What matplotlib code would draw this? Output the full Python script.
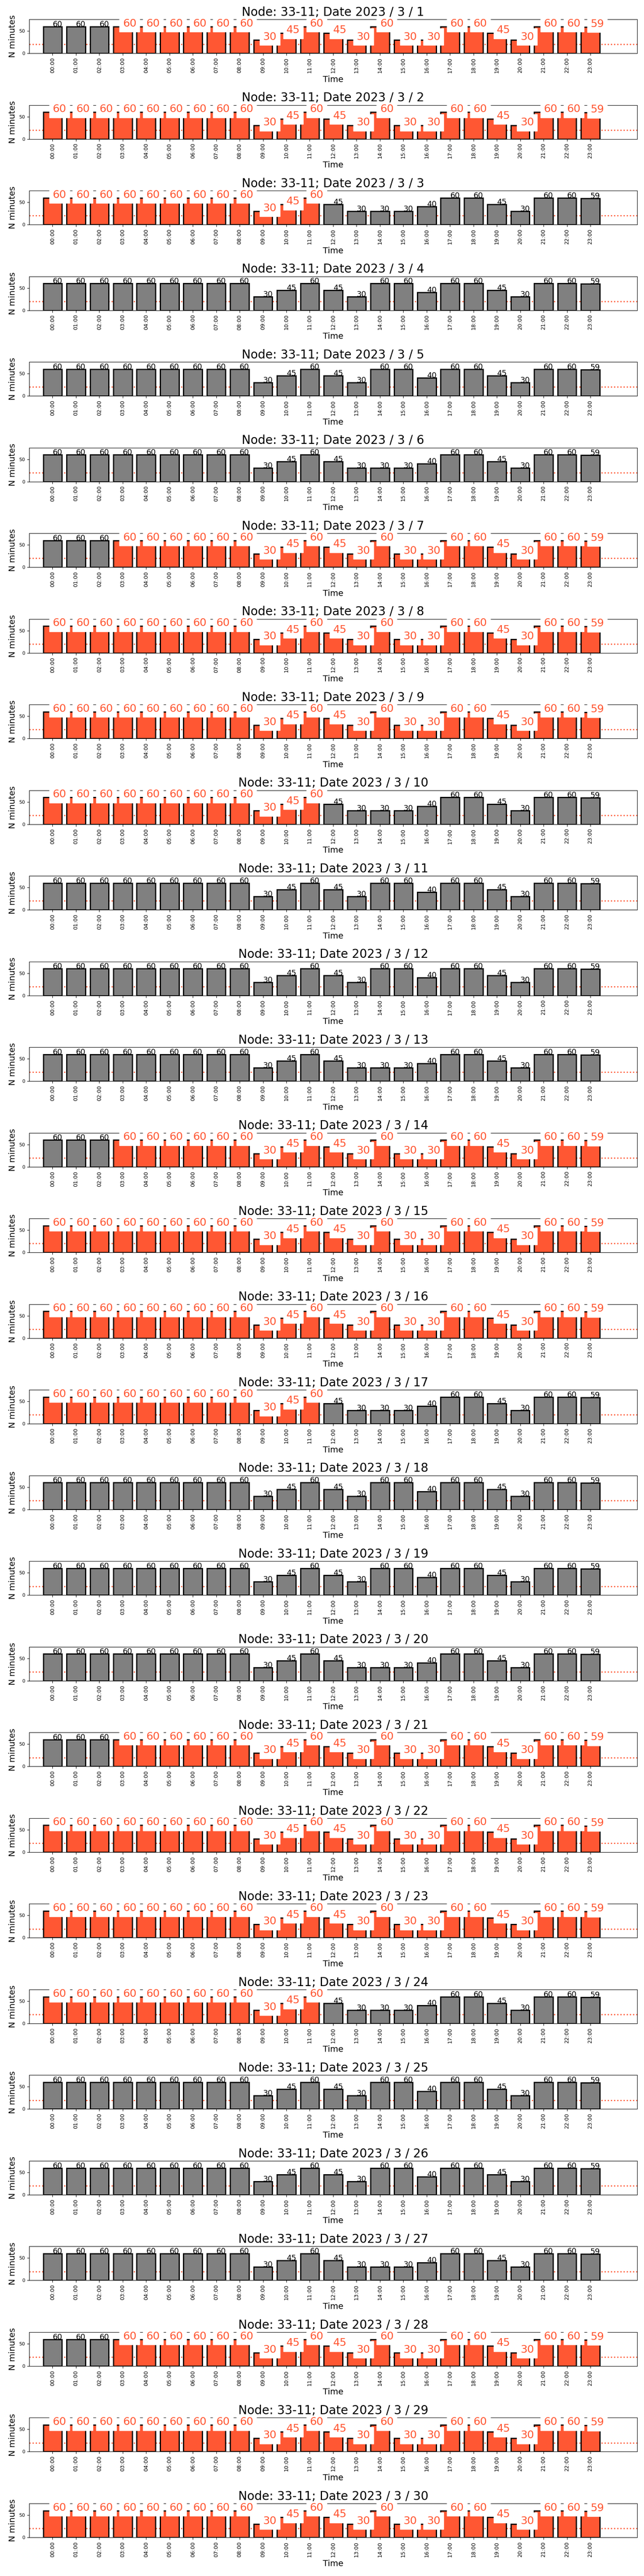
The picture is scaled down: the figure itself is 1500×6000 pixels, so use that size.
import numpy as np
import matplotlib
matplotlib.use("Agg")
import matplotlib.pyplot as plt

# hourly minutes per day, 2023-03-01 .. 2023-03-30 (node 33-11)
hour_labels = ["00:00", "01:00", "02:00", "03:00", "04:00", "05:00", "06:00", "07:00",
               "08:00", "09:00", "10:00", "11:00", "12:00", "13:00", "14:00", "15:00",
               "16:00", "17:00", "18:00", "19:00", "20:00", "21:00", "22:00", "23:00"]

minutes_a = [60, 60, 60, 60, 60, 60, 60, 60, 60, 30, 45, 60, 45, 30, 60, 30, 30, 60, 60, 45, 30, 60, 60, 59]
minutes_b = [60, 60, 60, 60, 60, 60, 60, 60, 60, 30, 45, 60, 45, 30, 30, 30, 40, 60, 60, 45, 30, 60, 60, 59]
minutes_c = [60, 60, 60, 60, 60, 60, 60, 60, 60, 30, 45, 60, 45, 30, 60, 60, 40, 60, 60, 45, 30, 60, 60, 59]

# 1 = hour flagged (drawn in orange)
flags_late = [0, 0, 0, 1, 1, 1, 1, 1, 1, 1, 1, 1, 1, 1, 1, 1, 1, 1, 1, 1, 1, 1, 1, 1]
flags_all = [1] * 24
flags_morning = [1, 1, 1, 1, 1, 1, 1, 1, 1, 1, 1, 1, 0, 0, 0, 0, 0, 0, 0, 0, 0, 0, 0, 0]
flags_none = [0] * 24

day_minutes = [
    minutes_a, minutes_a, minutes_b, minutes_c, minutes_c, minutes_b, minutes_a,
    minutes_a, minutes_a, minutes_b, minutes_c, minutes_c, minutes_b, minutes_a,
    minutes_a, minutes_a, minutes_b, minutes_c, minutes_c, minutes_b, minutes_a,
    minutes_a, minutes_a, minutes_b, minutes_c, minutes_c, minutes_b, minutes_a,
    minutes_a, minutes_a,
]
day_flags = [
    flags_late, flags_all, flags_morning, flags_none, flags_none, flags_none, flags_late,
    flags_all, flags_all, flags_morning, flags_none, flags_none, flags_none, flags_late,
    flags_all, flags_all, flags_morning, flags_none, flags_none, flags_none, flags_late,
    flags_all, flags_all, flags_morning, flags_none, flags_none, flags_none, flags_late,
    flags_all, flags_all,
]
threshold = 20

orange = "#FF5733"

fig, axes = plt.subplots(len(day_minutes), 1, figsize=(15, 60), dpi=100)
fig.subplots_adjust(left=0.0453, right=0.9893, top=0.9925, bottom=0.015, hspace=1.525)

x = np.arange(len(hour_labels))
for day, (ax, vals, flags) in enumerate(zip(axes, day_minutes, day_flags), start=1):
    colors = [orange if f else "gray" for f in flags]
    ax.bar(x, vals, width=0.8, color=colors, edgecolor="black", linewidth=2, zorder=2)
    ax.axhline(threshold, color=orange, linestyle=":", linewidth=2, zorder=1)

    for xi, v, f in zip(x, vals, flags):
        if f:
            ax.text(xi, v, str(v), fontsize=18, color=orange,
                    bbox=dict(boxstyle="square,pad=0.3", facecolor="white", edgecolor="white"))
        else:
            ax.text(xi, v, str(v), fontsize=13, color="black")

    ax.set_xlim(-1, 25)
    ax.set_ylim(0, 76)
    ax.set_yticks([0, 50])
    ax.set_xticks(x)
    ax.set_xticklabels(hour_labels, rotation=90, fontsize=9)
    ax.tick_params(axis="y", labelsize=8)
    ax.set_ylabel("N minutes", fontsize=14)
    ax.set_xlabel("Time", fontsize=14)
    ax.set_title(f"Node: 33-11; Date 2023 / 3 / {day}", fontsize=20)

fig.savefig("out.png", dpi=100)
